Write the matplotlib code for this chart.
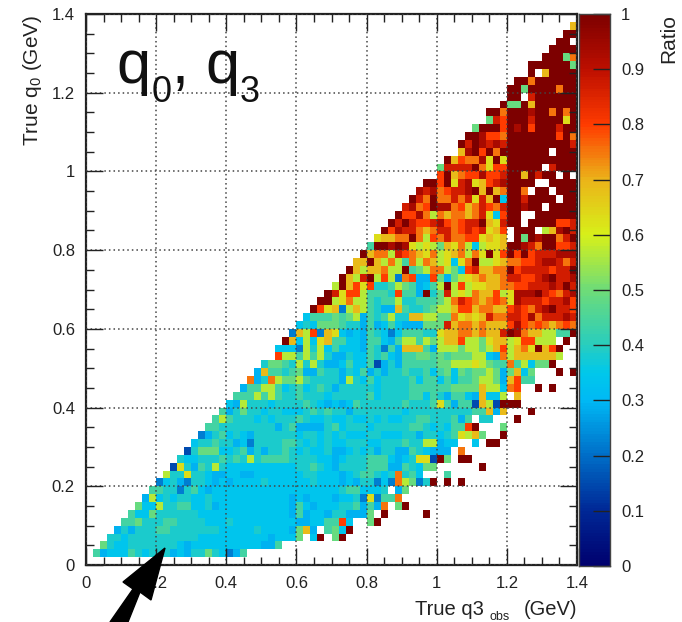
import matplotlib
matplotlib.use("Agg")
import matplotlib.pyplot as plt
import numpy as np
from matplotlib.colors import LinearSegmentedColormap
from matplotlib.patches import Polygon
from matplotlib.transforms import IdentityTransform

plt.rcParams["font.family"] = ["Liberation Sans", "DejaVu Sans"]
plt.rcParams["mathtext.fontset"] = "custom"
plt.rcParams["mathtext.rm"] = "Liberation Sans"
plt.rcParams["mathtext.it"] = "Liberation Sans"

n_bins = 70
bin_edges = np.linspace(0, 1.4, n_bins + 1)

# ratio value for each letter, read against the palette
level_values = {"a": 0.15, "b": 0.22, "c": 0.29, "d": 0.34, "e": 0.385, "f": 0.44, "g": 0.49,
                "h": 0.57, "i": 0.63, "j": 0.69, "k": 0.75, "l": 0.80, "m": 0.87, "n": 0.93, "X": 1.0}

# q0 bin of each row, first q3 bin of it, and the cells from there on ("." = no entry)
row_index = list(range(1, 69))
row_start = [1, 2, 3, 4, 5, 6, 7, 8, 9, 10, 11, 12, 13, 14, 15, 16, 17, 18, 19, 20, 21, 22, 23, 24,
             25, 27, 27, 28, 29, 30, 31, 32, 33, 34, 35, 36, 37, 38, 39, 40, 41, 42, 43, 44, 45, 46,
             47, 48, 50, 50, 51, 53, 53, 54, 55, 57, 57, 59, 60, 60, 61, 63, 63, 65, 66, 67, 68, 69]
row_codes = [
    "fcdddfedee ecdceegedb cf",
    "geddeeeeee edcddddddd dddccf",
    "eedeeeeeee eeeddddddd dddcdddg.d X.gX",
    "ceceeeffee eeeeeddddd eddddcgjc. fgdX",
    "ffgeeeffee eedddedddd dddddccddf fld..gX",
    "fddgeeeeee dddddddddd dddcfcddce ecccg.X.....X",
    "gddheeffdd ecdddddddd ddcfdcddde efcfck.gX",
    "chdedeedde dddddddddd dcdcdddcdd ebibffk",
    "ffeebefdcd dddddddddd dddddddeff ddde.cg",
    "bdecbeedcd cddddedddd ddedddcdce ebdbkhgbeX .X.X",
    "heeieedccd dccddddddd eedddcdeff edekefd... f",
    "aiecfehedd ddddddddee fedceeeeff fccfedgg.. ....X",
    "eddeeefefe heffffeeee ddcdeeefff dcdeiiaXg. XX",
    "aegggddefc eceefededd eccdedecee ccfedccc.k",
    "deefeecdbe eeeffedede ddeeeddeee feehhcdd.. d.XX",
    "bcefdedcee eeeedeeded edddeeddde eceedefihj g..X",
    "ffeeeeeeee cefccccefd eeedeeeeef fededfflX. ..g",
    "fhfeeedede eefeddedde ddededdeef feeefcf.ee ...X",
    "fcegeedeed ddefefeece eeeeeedeee eeeeeeffjc j...X",
    "dcheeedeee efedcdcdfe eeeeefeeef ifcffajhaX XX",
    "fffhfhfeef eeedeeeeef deeeeffdfe cffdcjddh. j",
    "cffhhfdefd efeceeeeed eeeeffffff ggggjhhdkl ..X.X",
    "kcekhgghfe eeechedfde eeefdffdfd ffghhgcjlf f",
    "cjffefgccf eecedfcece efeefdfgdg fgghgcgjdg ...X.X",
    "eggfehehec cdfddfacec fffffgghhh ihgffkfhdg gX",
    "lhhfhfhecc eddfefdcff ggfgfggghh dckhjjjjjj h",
    "dddbhehdfd ddcfebfcjj jfchhhghhg hjlhjkiXjl X",
    "Xjdhdijffd dcffdcfhhf hghjjlhhgi jjhillhhh. X.",
    "bjhlbjidcd cfedbdfffe eijjkkjkjj mXnkjjhhff X",
    "dedgggfeec fcdfdcccgg gmjkkjkjjj lnlklkjklk",
    "dfffgfghcf efheejjhhg gkijijmkkm mlnkmmmnm",
    "Xlijbhjhfe ccjfeefghh jlljkkjjlm lkmnXmml",
    "XXhikhhfef fheefffghk mlkjklkinm mmlmmnl",
    "Xmillhfffe lffcXegmhi hkjjlhinnn Xmlkmn",
    "hXjlileefh gfcdfhXhlh iijjkkllmm mnmXm",
    "XjhmXhlhbk lcclgcghij kjjkmmllmn Xmmn",
    "XjhjjkhhXf ghkkhgdlmj jkkXlmmmml mmX",
    "jjXjhkhfkh kjhidikXhh ijkkllmnnm km",
    "Xjkkhmlkji khijkhkiXi lXlXlmmmnn n",
    "fXXnXnihih gjikhdhiij XXnmkXXllm",
    "ijjkkXkhlk mkkllijij. XgXnXXkmX",
    "Xlnmmkjkmm klmlmijl.X XX.hjnXm",
    "XmXmllmnlk lmmXjimXX. XXXXllm",
    "Xllnkhkjkk jkmidlXX.. XXXXXX",
    "mnklXnnklj kmlkmXXnXX .XXXX",
    "XmkXkkmkmi mjXdXXmXXX X.XX",
    "nmnklmmnXj XjkXXk.XX. XXX",
    "XXlXimnijl mnXXXX..XX XX",
    "lXjkllnllm XXjXmXX.X.",
    "gmmmmXkill XXXXX.mXXX",
    "XjlkkniXiX XXXXXXXXX",
    "jnXlXkXXXX XXX.XXX",
    "XmXnmnmXXX XXXXXXm",
    "XXnllkXXXX XXXlXk",
    "gXXXlXnXlX XXmXX",
    "gmlXXXmXXX XiX",
    "XXkXXXnXXk XkX",
    "XggXjXXXXX X",
    "XX.mXXXXXX",
    "XXgXXXXkXX",
    "XXkXXXXXX",
    "X.jXXXX",
    "XXXXXXg",
    "XXXgk",
    "XXXX",
    "XX.",
    "XX",
    "j",
]

tick_values = [0, 0.2, 0.4, 0.6, 0.8, 1, 1.2, 1.4]
tick_labels = ["0", "0.2", "0.4", "0.6", "0.8", "1", "1.2", "1.4"]
palette_ticks = [0, 0.1, 0.2, 0.3, 0.4, 0.5, 0.6, 0.7, 0.8, 0.9, 1]
palette_labels = ["0", "0.1", "0.2", "0.3", "0.4", "0.5", "0.6", "0.7", "0.8", "0.9", "1"]

palette_stops = [(0.0, (0, 0, 110)), (0.1, (0, 40, 150)), (0.2, (0, 110, 200)), (0.3, (0, 185, 245)),
                 (0.35, (0, 200, 235)), (0.4, (40, 205, 190)), (0.5, (110, 220, 120)),
                 (0.6, (215, 240, 25)), (0.7, (235, 180, 25)), (0.8, (255, 60, 0)),
                 (0.9, (190, 15, 0)), (1.0, (125, 0, 0))]
ratio_cmap = LinearSegmentedColormap.from_list(
    "ratio", [(v, tuple(c / 255 for c in rgb)) for v, rgb in palette_stops])

ratio = np.full((n_bins, n_bins), np.nan)
for r, start, codes in zip(row_index, row_start, row_codes):
    for k, ch in enumerate(codes.replace(" ", "")):
        if ch != "." and start + k < n_bins:
            ratio[r, start + k] = level_values[ch]

W, H = 682, 622
dark = "#222222"
fig = plt.figure(figsize=(W / 100, H / 100), dpi=100)
ax = fig.add_axes([86 / W, (H - 565) / H, 491 / W, 551 / H])
ax.pcolormesh(bin_edges, bin_edges, np.ma.masked_invalid(ratio), cmap=ratio_cmap, vmin=0, vmax=1)
ax.set_xlim(0, 1.4)
ax.set_ylim(0, 1.4)
ax.set_xticks(tick_values, tick_labels)
ax.set_yticks(tick_values, tick_labels)
ax.set_xticks(np.arange(0, 1.41, 0.05), minor=True)
ax.set_yticks(np.arange(0, 1.41, 0.05), minor=True)
ax.tick_params(which="major", direction="in", length=12, width=1, top=True, right=True,
               labelsize=12, colors=dark, pad=8)
ax.tick_params(which="minor", direction="in", length=6, width=1, top=True, right=True, colors=dark)
ax.grid(True, which="major", color="#444444", linestyle=(0, (1, 2)), linewidth=1.1)
ax.set_axisbelow(False)
for s in ax.spines.values():
    s.set_linewidth(1.6)
    s.set_color(dark)


def px_text(x, y, s, **kw):
    # x, y in reference pixels from the top left
    return fig.text(x / W, (H - y) / H, s, color=kw.pop("color", dark), **kw)


# big q0, q3 label, pieces placed so the oversized subscripts match
px_text(116, 83, "q", fontsize=44, color="#111111")
px_text(152, 102, "0", fontsize=26, color="#111111")
px_text(172, 83, ",", fontsize=44, color="#111111")
px_text(205, 83, "q", fontsize=44, color="#111111")
px_text(240, 102, "3", fontsize=26, color="#111111")

px_text(33, 15, "True q$_0$ (GeV)", rotation=90, ha="center", va="top", fontsize=15)
px_text(415, 615, "True q3", fontsize=14.5)
px_text(490, 620, "obs", fontsize=9)
px_text(577, 615, "(GeV)", ha="right", fontsize=14.5)
px_text(669, 14, "Ratio", rotation=90, ha="center", va="top", fontsize=15)

# palette
cax = fig.add_axes([579 / W, (H - 566) / H, 31 / W, 552 / H])
palette = np.linspace(0, 1, 201)
cax.pcolormesh([0, 1], palette, ((palette[:-1] + palette[1:]) / 2).reshape(-1, 1), cmap=ratio_cmap, vmin=0, vmax=1)
cax.set_xticks([])
cax.yaxis.tick_right()
cax.set_yticks(palette_ticks, palette_labels)
cax.tick_params(axis="y", direction="in", length=12, width=1, labelsize=12, colors=dark, pad=8)
for s in cax.spines.values():
    s.set_linewidth(1)
    s.set_color("#444444")

# arrow over the lower edge, in pixels from the top left
arrow_px = [(165, 548), (151, 600), (140, 592), (128, 622), (110, 622), (133, 589), (123, 582)]
fig.add_artist(Polygon([(x, H - y) for x, y in arrow_px], closed=True, facecolor="black",
                       edgecolor="black", transform=IdentityTransform(), clip_on=False))

fig.savefig("out.png", dpi=100)
